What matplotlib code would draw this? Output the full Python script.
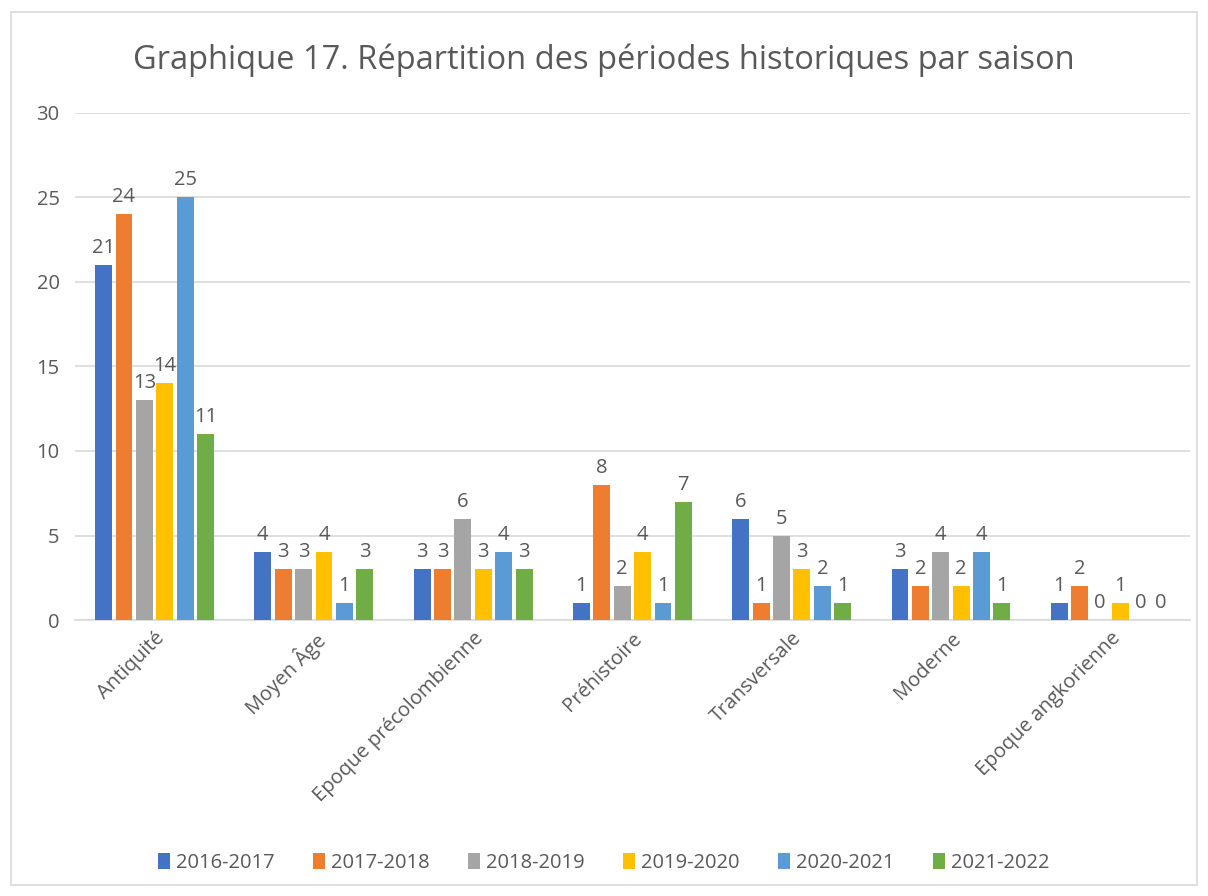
import matplotlib.pyplot as plt
import matplotlib.patches as mpatches
import numpy as np

plt.rcParams['font.family'] = ['Open Sans', 'DejaVu Sans']

categories = ["Antiquité", "Moyen Âge", "Epoque précolombienne", "Préhistoire",
              "Transversale", "Moderne", "Epoque angkorienne"]
seasons = ["2016-2017", "2017-2018", "2018-2019", "2019-2020", "2020-2021", "2021-2022"]
s2016 = [21, 4, 3, 1, 6, 3, 1]
s2017 = [24, 3, 3, 8, 1, 2, 2]
s2018 = [13, 3, 6, 2, 5, 4, 0]
s2019 = [14, 4, 3, 4, 3, 2, 1]
s2020 = [25, 1, 4, 1, 2, 4, 0]
s2021 = [11, 3, 3, 7, 1, 1, 0]
series = [s2016, s2017, s2018, s2019, s2020, s2021]
colors = ["#4472C4", "#ED7D31", "#A5A5A5", "#FFC000", "#5B9BD5", "#70AD47"]

text_col = "#595959"

fig = plt.figure(figsize=(12.08, 8.96), dpi=100)
ax = fig.add_axes([0.062, 0.308, 0.923, 0.566])

x = np.arange(len(categories))
pitch = 0.128
width = 0.106
for i, (vals, col, lab) in enumerate(zip(series, colors, seasons)):
    pos = x + (i - 2.5) * pitch
    bars = ax.bar(pos, vals, width, color=col, label=lab, zorder=3)
    for b, v in zip(bars, vals):
        ax.annotate(str(v), (b.get_x() + b.get_width() / 2, v),
                    xytext=(0, 5), textcoords="offset points",
                    ha="center", va="bottom", fontsize=14.5, color=text_col)

ax.set_xlim(-0.5, len(categories) - 0.5)
ax.set_ylim(0, 30)
ax.set_yticks(range(0, 31, 5))
ax.yaxis.grid(True, color="#D9D9D9", linewidth=1.2, zorder=0)
ax.set_axisbelow(True)
for side in ["top", "right", "left"]:
    ax.spines[side].set_visible(False)
ax.spines["bottom"].set_color("#D9D9D9")
ax.spines["bottom"].set_linewidth(1.2)
ax.tick_params(axis="both", length=0, labelsize=14.5, colors=text_col)
ax.tick_params(axis="y", pad=11)
ax.tick_params(axis="x", pad=6)
ax.set_xticks(x)
ax.set_xticklabels(categories, rotation=45, ha="right", rotation_mode="anchor")

fig.text(0.5, 0.933, "Graphique 17. Répartition des périodes historiques par saison",
         ha="center", va="center", fontsize=23.5, color=text_col)

fig.legend(loc="center", bbox_to_anchor=(0.5, 0.037), ncol=6, frameon=False,
           fontsize=14.5, handlelength=0.6, handleheight=0.9, handletextpad=0.3,
           columnspacing=1.9, labelcolor=text_col)

fig.patches.append(mpatches.Rectangle((0.009, 0.012), 0.982, 0.975,
                                      transform=fig.transFigure, fill=False,
                                      edgecolor="#D9D9D9", linewidth=1.2))

fig.savefig("out.png", dpi=100)
